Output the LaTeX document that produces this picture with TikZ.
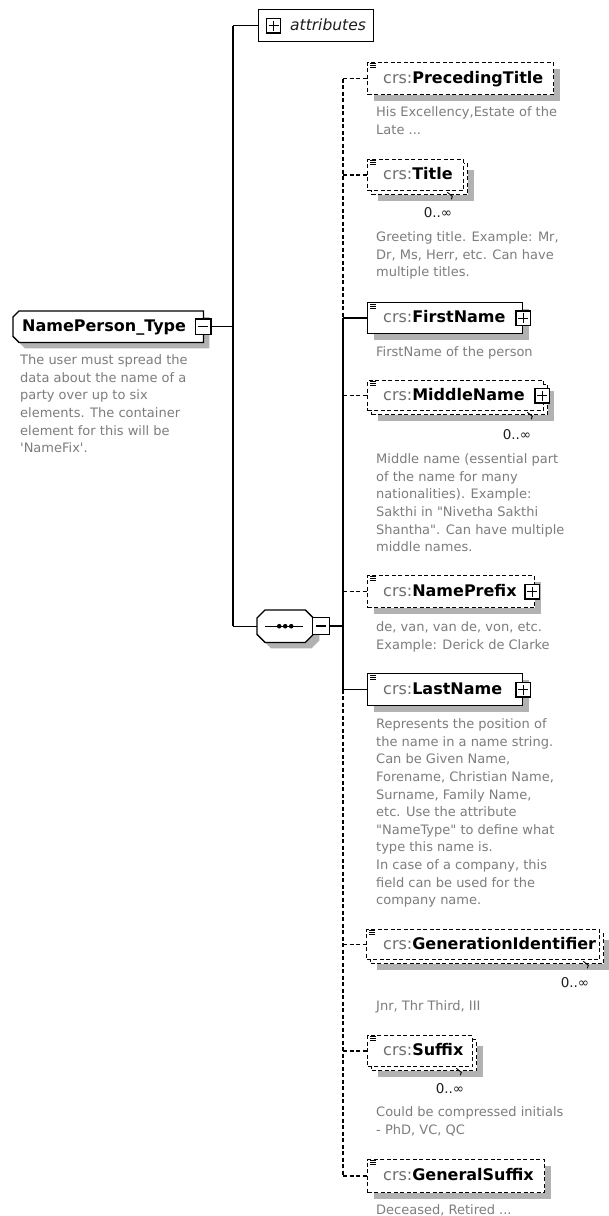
\documentclass[tikz,border=0pt]{standalone}
\usepackage{fontspec}
\setmainfont{DejaVu Sans}
\usetikzlibrary{shadows}
\definecolor{shadowgray}{RGB}{178,178,178}
\definecolor{descgray}{RGB}{125,125,125}
\definecolor{prefixgray}{RGB}{110,110,110}
\definecolor{inkgray}{RGB}{30,30,30}
\newcommand\xelem[6]{\node[#6, minimum width=#4, minimum height=#5] (#1) at (#2,#3) {};}
\newcommand\xlist[2]{\foreach \d in {0,2.2,4.4}{\draw[line width=0.7pt] ([shift={(3,#2+\d)}]#1.north west) -- ++(6,0);}}
\newcommand\xtick[1]{\draw[line width=0.9pt] ([shift={(-17,1)}]#1.south east) -- ++(5,4) -- ++(-1,3);}
\tikzset{
 conn/.style={line width=1.4pt},
 dconn/.style={line width=1.4pt, dash pattern=on 4pt off 2.5pt},
 boxbase/.style={draw, line width=1.3pt, fill=white, inner sep=0pt, anchor=north west},
 shad/.style={drop shadow={shadow xshift=6pt, shadow yshift=-6pt, fill=shadowgray, opacity=1}},
 sbox/.style={boxbase, shad},
 obox/.style={boxbase, shad, dash pattern=on 4pt off 2.5pt},
 ofront/.style={boxbase, dash pattern=on 4pt off 2.5pt},
 ename/.style={anchor=west, inner sep=0pt, text height=12pt, text depth=3pt, font=\fontsize{16}{18}\selectfont},
 desc/.style={anchor=north west, inner sep=0pt, align=left, text=descgray, font=\fontsize{13}{17.6}\selectfont},
 mult/.style={inner sep=0pt, text=inkgray, font=\fontsize{13.5}{15}\selectfont},
 iconbox/.style={draw, fill=white, line width=1.4pt, minimum size=#1, inner sep=0pt},
 plusicon/.style={iconbox=14.5pt, path picture={\draw[line width=1.2pt] ([xshift=-5pt]path picture bounding box.center) -- ([xshift=5pt]path picture bounding box.center) ([yshift=-5pt]path picture bounding box.center) -- ([yshift=5pt]path picture bounding box.center);}},
 minusicon/.style={iconbox=#1, path picture={\draw[line width=1.2pt] ([xshift=-5pt]path picture bounding box.center) -- ([xshift=5pt]path picture bounding box.center);}},
 anchorbox/.style={inner sep=0pt, anchor=north west},
}
\begin{document}
\begin{tikzpicture}[x=1pt,y=-1pt]
\useasboundingbox (0,0) rectangle (609,1216);
\fill[white] (0,0) rectangle (609,1216);

% trunk reference coordinates
\coordinate (t1) at (233,0);
\coordinate (s0) at (343,0);

% ---- attributes
\xelem{attr}{258}{9}{115}{32}{boxbase}
\node[plusicon] (attrp) at ([xshift=15.5pt]attr.west) {};
\node[ename, font=\fontsize{15.5}{18}\selectfont\itshape, text=inkgray] (attrt) at ([xshift=32pt]attr.west) {attributes};

% ---- NamePerson_Type
\node[anchorbox, minimum width=190, minimum height=31] (nps) at (13,311) {};
\draw[line width=1.3pt, fill=white, shad] ([xshift=6pt]nps.north west) -- (nps.north east) -- (nps.south east) -- ([xshift=6pt]nps.south west) -- ([yshift=6pt]nps.south west) -- ([yshift=-6pt]nps.north west) -- cycle;
\node[ename, font=\fontsize{16}{18}\selectfont\bfseries] (npst) at ([xshift=9pt]nps.west) {NamePerson\_Type};
\node[minusicon=15.5pt] (npsm) at (nps.east) {};
\node[desc] (npsd) at (20,354.6) {The user must spread the\\data about the name of a\\party over up to six\\elements. The container\\element for this will be\\\textquotesingle NameFix\textquotesingle.};

% ---- sequence compositor
\node[anchorbox, minimum width=56, minimum height=32] (seq) at (257,610) {};
\draw[line width=1.3pt, fill=white, shad] ([xshift=8pt]seq.north west) -- ([xshift=-8pt]seq.north east) -- ([yshift=-8pt]seq.north east) -- ([yshift=8pt]seq.south east) -- ([xshift=-8pt]seq.south east) -- ([xshift=8pt]seq.south west) -- ([yshift=8pt]seq.south west) -- ([yshift=-8pt]seq.north west) -- cycle;
\draw[line width=1.2pt] ([xshift=-20pt]seq.center) -- ([xshift=18pt]seq.center);
\foreach \dx in {-6,0,6}{\fill ([xshift=\dx pt]seq.center) circle (2.3);}
\node[minusicon=17pt] (seqm) at (321,626) {};

% trunk 1
\draw[conn] (t1 |- attr.west) -- (t1 |- seq.west);
\draw[conn] (t1 |- attr.west) -- (attr.west);
\draw[conn] (npsm.east) -- (t1 |- npsm.east);
\draw[conn] (t1 |- seq.west) -- (seq.west);
\draw[conn] (seqm.east) -- (s0 |- seqm.east);

% ---- PrecedingTitle
\xelem{pt}{367}{62}{186}{32}{obox}
\xlist{pt}{1}
\node[ename] (ptt) at ([xshift=16pt]pt.west) {\textcolor{prefixgray}{crs:}\textbf{PrecedingTitle}};
\node[desc] (ptd) at (376,106.6) {His Excellency,Estate of the\\Late ...};

% ---- Title (multiple)
\xelem{tib}{371}{163}{96}{31}{obox}
\xelem{ti}{367}{159}{96}{31}{ofront}
\xlist{ti}{1}
\node[ename] (tit) at ([xshift=16pt]ti.west) {\textcolor{prefixgray}{crs:}\textbf{Title}};
\xtick{ti}
\node[mult] (tim) at (438,213) {0..∞};
\node[desc] (tid) at (376,231.6) {Greeting title. Example: Mr,\\Dr, Ms, Herr, etc. Can have\\multiple titles.};

% ---- FirstName
\xelem{fn}{367}{302}{155}{31}{sbox}
\xlist{fn}{2}
\node[ename] (fnt) at ([xshift=16pt]fn.west) {\textcolor{prefixgray}{crs:}\textbf{FirstName}};
\node[plusicon] (fnp) at (fn.east) {};
\node[desc] (fnd) at (376,346.6) {FirstName of the person};

% ---- MiddleName (multiple)
\xelem{mnb}{371}{384}{176}{30}{obox}
\xelem{mn}{367}{380}{176}{30}{ofront}
\xlist{mn}{1}
\node[ename] (mnt) at ([xshift=16pt]mn.west) {\textcolor{prefixgray}{crs:}\textbf{MiddleName}};
\node[plusicon] (mnp) at ([xshift=-2pt]mn.east) {};
\xtick{mn}
\node[mult] (mnm) at (517,435) {0..∞};
\node[desc] (mnd) at (376,453.6) {Middle name (essential part\\of the name for many\\nationalities). Example:\\Sakthi in \textquotedbl Nivetha Sakthi\\Shantha\textquotedbl. Can have multiple\\middle names.};

% ---- NamePrefix
\xelem{np}{367}{575}{167}{32}{obox}
\xlist{np}{1}
\node[ename] (npt) at ([xshift=16pt]np.west) {\textcolor{prefixgray}{crs:}\textbf{NamePrefix}};
\node[plusicon] (npp) at ([xshift=-3pt]np.east) {};
\node[desc] (npd) at (376,621.6) {de, van, van de, von, etc.\\Example: Derick de Clarke};

% ---- LastName
\xelem{ln}{367}{673}{155}{32}{sbox}
\xlist{ln}{2}
\node[ename] (lnt) at ([xshift=16pt]ln.west) {\textcolor{prefixgray}{crs:}\textbf{LastName}};
\node[plusicon] (lnp) at (ln.east) {};
\node[desc] (lnd) at (376,718.6) {Represents the position of\\the name in a name string.\\Can be Given Name,\\Forename, Christian Name,\\Surname, Family Name,\\etc. Use the attribute\\\textquotedbl NameType\textquotedbl{} to define what\\type this name is.\\In case of a company, this\\field can be used for the\\company name.};

% ---- GenerationIdentifier (multiple)
\xelem{gib}{370}{933}{233}{30}{obox}
\xelem{gi}{366}{929}{233}{30}{ofront}
\xlist{gi}{1}
\node[ename] (git) at ([xshift=17pt]gi.west) {\textcolor{prefixgray}{crs:}\textbf{GenerationIdentifier}};
\xtick{gi}
\node[mult] (gim) at (575,983) {0..∞};
\node[desc] (gid) at (376,1000.6) {Jnr, Thr Third, III};

% ---- Suffix (multiple)
\xelem{sub}{371}{1039}{105}{31}{obox}
\xelem{su}{367}{1035}{105}{31}{ofront}
\xlist{su}{1}
\node[ename] (sut) at ([xshift=16pt]su.west) {\textcolor{prefixgray}{crs:}\textbf{Suffix}};
\xtick{su}
\node[mult] (sum) at (450,1089) {0..∞};
\node[desc] (sud) at (376,1106.6) {Could be compressed initials\\- PhD, VC, QC};

% ---- GeneralSuffix
\xelem{gs}{367}{1159}{177}{33}{obox}
\xlist{gs}{1}
\node[ename] (gst) at ([xshift=16pt]gs.west) {\textcolor{prefixgray}{crs:}\textbf{GeneralSuffix}};
\node[desc] (gsd) at (376,1204.6) {Deceased, Retired ...};

% trunk 2
\draw[dconn] (s0 |- pt.west) -- (s0 |- fn.west);
\draw[conn] (s0 |- fn.west) -- (s0 |- ln.west);
\draw[dconn] (s0 |- ln.west) -- (s0 |- gs.west);
\draw[dconn] (s0 |- pt.west) -- (pt.west);
\draw[dconn] (s0 |- ti.west) -- (ti.west);
\draw[conn] (s0 |- fn.west) -- (fn.west);
\draw[dconn] (s0 |- mn.west) -- (mn.west);
\draw[dconn] (s0 |- np.west) -- (np.west);
\draw[conn] (s0 |- ln.west) -- (ln.west);
\draw[dconn] (s0 |- gi.west) -- (gi.west);
\draw[dconn] (s0 |- su.west) -- (su.west);
\draw[dconn] (s0 |- gs.west) -- (gs.west);
\end{tikzpicture}
\end{document}
